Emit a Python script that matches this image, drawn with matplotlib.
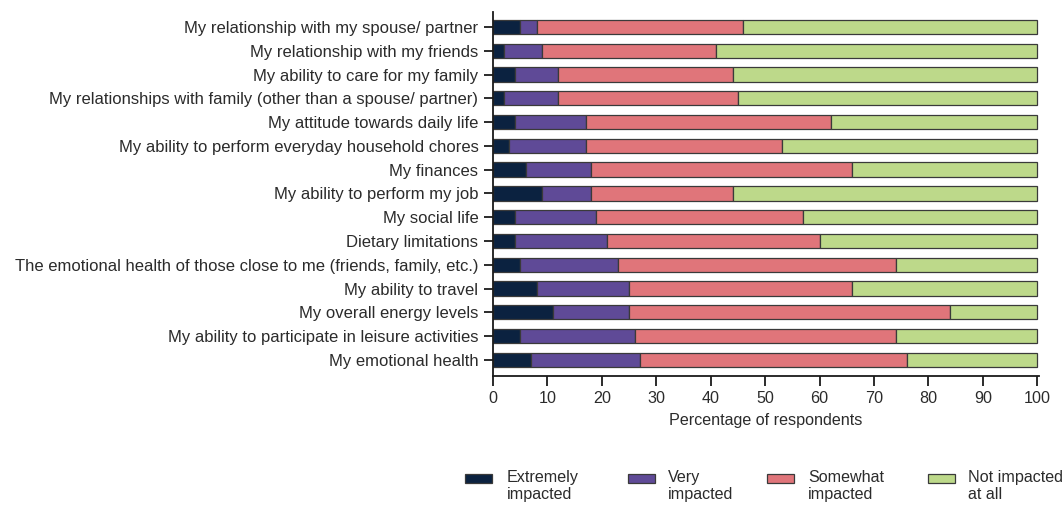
import matplotlib
matplotlib.use("Agg")
import matplotlib.pyplot as plt
from matplotlib.patches import Rectangle
import numpy as np

plt.rcParams['font.family'] = ['Liberation Sans', 'DejaVu Sans']

categories = [
    "My relationship with my spouse/ partner",
    "My relationship with my friends",
    "My ability to care for my family",
    "My relationships with family (other than a spouse/ partner)",
    "My attitude towards daily life",
    "My ability to perform everyday household chores",
    "My finances",
    "My ability to perform my job",
    "My social life",
    "Dietary limitations",
    "The emotional health of those close to me (friends, family, etc.)",
    "My ability to travel",
    "My overall energy levels",
    "My ability to participate in leisure activities",
    "My emotional health",
]
extremely = [5, 2, 4, 2, 4, 3, 6, 9, 4, 4, 5, 8, 11, 5, 7]
very      = [3, 7, 8, 10, 13, 14, 12, 9, 15, 17, 18, 17, 14, 21, 20]
somewhat  = [38, 32, 32, 33, 45, 36, 48, 26, 38, 39, 51, 41, 59, 48, 49]
not_at_all = [54, 59, 56, 55, 38, 47, 34, 56, 43, 40, 26, 34, 16, 26, 24]

series_names = ["Extremely\nimpacted", "Very\nimpacted", "Somewhat\nimpacted", "Not impacted\nat all"]
series = [extremely, very, somewhat, not_at_all]
colors = ["#0b2240", "#5f4a97", "#e0757a", "#bdd98a"]
xticks = list(range(0, 101, 10))
xlabel = "Percentage of respondents"

text_color = "#2b2b2b"
edge = "#3a3a3a"
fs_y = 12
fs = 11.6

W, H = 1064, 507
fig = plt.figure(figsize=(W / 100, H / 100), dpi=100)
ax = fig.add_axes([493 / W, 1 - 376 / H, (1039 - 493) / W, (376 - 12) / H])

y = np.arange(len(categories))
left = np.zeros(len(categories))
for vals, col in zip(series, colors):
    v = np.array(vals, dtype=float)
    ax.barh(y, v, left=left, height=0.6, color=col, edgecolor=edge, linewidth=0.9)
    left += v

ax.set_ylim(len(categories) - 1 + 0.68, -0.63)
ax.set_xlim(0, 100.3)
ax.set_yticks(y)
ax.set_yticklabels(categories, fontsize=fs_y, color=text_color)
ax.set_xticks(xticks)
ax.set_xticklabels([str(t) for t in xticks], fontsize=fs, color=text_color)
ax.set_xlabel(xlabel, fontsize=fs, color=text_color, labelpad=5)

for s in ["top", "right"]:
    ax.spines[s].set_visible(False)
for s in ["left", "bottom"]:
    ax.spines[s].set_linewidth(1.3)
    ax.spines[s].set_color("#1a1a1a")
ax.tick_params(axis="y", length=6.5, width=1.3, pad=4, color="#1a1a1a")
ax.tick_params(axis="x", length=7, width=1.3, pad=3.5, color="#1a1a1a")

# legend (manual layout)
patch_x = [465, 628, 767, 928]
text_x = [507, 668, 808, 968]
for px, tx, name, col in zip(patch_x, text_x, series_names, colors):
    r = Rectangle((px / W, 1 - 483 / H), 27 / W, 9 / H, transform=fig.transFigure,
                  facecolor=col, edgecolor=edge, linewidth=0.9)
    fig.add_artist(r)
    fig.text(tx / W, 1 - 470 / H, name, fontsize=fs, color=text_color,
             va="top", ha="left", linespacing=1.2)

fig.savefig("out.png", dpi=100)
